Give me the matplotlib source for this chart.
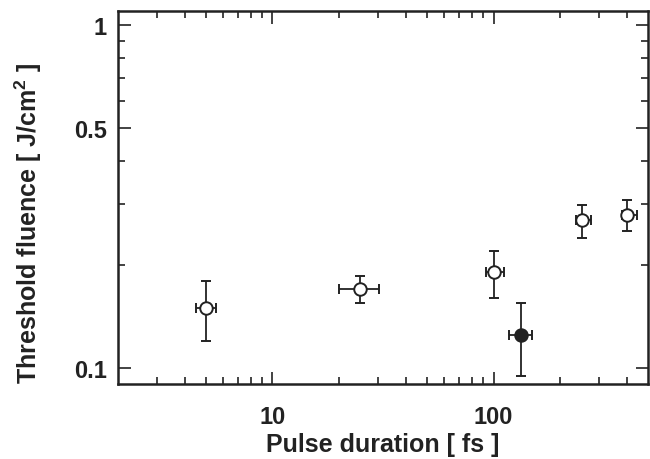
import matplotlib
matplotlib.use("Agg")
import matplotlib.pyplot as plt
from matplotlib.ticker import FixedLocator, NullFormatter
import numpy as np

# pulse duration (fs) and threshold fluence (J/cm^2)
dur_open = [5, 25, 100, 250, 400]
dur_open_lo = [4.5, 20, 92, 236, 380]
dur_open_hi = [5.55, 30.4, 112, 276, 445]
flu_open = [0.15, 0.17, 0.19, 0.27, 0.28]
flu_open_lo = [0.12, 0.155, 0.16, 0.239, 0.25]
flu_open_hi = [0.179, 0.185, 0.22, 0.299, 0.309]

dur_fill = [133]
dur_fill_lo = [117]
dur_fill_hi = [149]
flu_fill = [0.125]
flu_fill_lo = [0.095]
flu_fill_hi = [0.155]

ytick_vals = [0.1, 0.5, 1]
ytick_labels = ["0.1", "0.5", "1"]
xtick_vals = [10, 100]
xtick_labels = ["10", "100"]

ink = '#222222'
plt.rcParams['font.family'] = ['Liberation Sans', 'DejaVu Sans']
plt.rcParams['font.weight'] = 'bold'
plt.rcParams['mathtext.fontset'] = 'custom'
plt.rcParams['mathtext.bf'] = 'Liberation Sans:bold'
plt.rcParams['mathtext.rm'] = 'Liberation Sans:bold'

fig = plt.figure(figsize=(6.5, 4.6), dpi=100)
ax = fig.add_axes([0.1815, 0.163, 0.8155, 0.811])


def errs(v, lo, hi):
    v = np.array(v)
    return [v - np.array(lo), np.array(hi) - v]


ax.errorbar(dur_open, flu_open, xerr=errs(dur_open, dur_open_lo, dur_open_hi),
            yerr=errs(flu_open, flu_open_lo, flu_open_hi), fmt='o', ms=9,
            mfc='white', mec=ink, mew=1.4, ecolor=ink, elinewidth=1.3,
            capsize=3.5, capthick=1.3, zorder=3)
ax.errorbar(dur_fill, flu_fill, xerr=errs(dur_fill, dur_fill_lo, dur_fill_hi),
            yerr=errs(flu_fill, flu_fill_lo, flu_fill_hi), fmt='o', ms=9,
            mfc=ink, mec=ink, mew=1.4, ecolor=ink, elinewidth=1.3,
            capsize=3.5, capthick=1.3, zorder=3)

ax.set_xscale('log')
ax.set_yscale('log')
ax.set_xlim(2, 500)
ax.set_ylim(0.0898, 1.098)

ax.xaxis.set_major_locator(FixedLocator(xtick_vals))
ax.set_xticklabels(xtick_labels)
ax.xaxis.set_minor_locator(FixedLocator([3, 4, 5, 6, 7, 8, 9, 20, 30, 40, 50, 60, 70, 80, 90, 200, 300, 400]))
ax.xaxis.set_minor_formatter(NullFormatter())
ax.yaxis.set_major_locator(FixedLocator(ytick_vals))
ax.set_yticklabels(ytick_labels)
ax.yaxis.set_minor_locator(FixedLocator([0.2, 0.3, 0.4, 0.6, 0.7, 0.8, 0.9]))
ax.yaxis.set_minor_formatter(NullFormatter())

ax.tick_params(which='both', direction='in', top=True, right=True, colors=ink,
               labelsize=17, width=1.2)
ax.tick_params(which='major', length=9)
ax.tick_params(which='minor', length=5)
ax.tick_params(axis='x', which='major', pad=15)
ax.tick_params(axis='y', which='major', pad=8)
for s in ax.spines.values():
    s.set_linewidth(1.8)
    s.set_color(ink)

ax.set_xlabel('Pulse duration [ fs ]', fontsize=18, fontweight='bold', color=ink, labelpad=3)
ax.set_ylabel(r'Threshold fluence [ J/cm$^{\mathbf{2}}$ ]', fontsize=18, fontweight='bold',
              color=ink)
# label sits a bit below the axis middle in the original
ax.yaxis.set_label_coords(-0.14, 0.434)

fig.savefig('out.png', dpi=100)
